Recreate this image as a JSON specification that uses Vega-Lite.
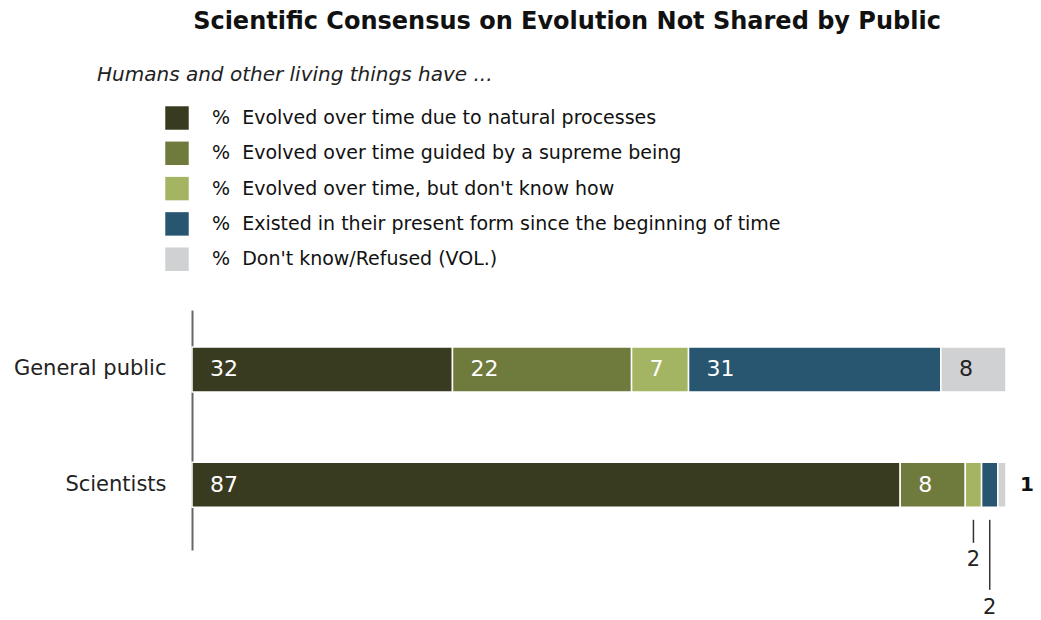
{
  "$schema": "https://vega.github.io/schema/vega-lite/v6.json",
  "width": 814,
  "height": 240,
  "autosize": {"type": "none"},
  "padding": {"left": 192, "top": 310, "right": 35, "bottom": 70},
  "background": "white",
  "config": {"view": {"stroke": null}, "font": "DejaVu Sans"},
  "title": {
    "text": "Scientific Consensus on Evolution Not Shared by Public",
    "font": "DejaVu Sans",
    "fontSize": 24,
    "fontWeight": "bold",
    "color": "#111111",
    "anchor": "middle",
    "dx": -32,
    "offset": 31
  },
  "data": {
    "values": [
      {"group": "General public", "answer": "Evolved over time due to natural processes", "order": 1, "value": 32},
      {"group": "General public", "answer": "Evolved over time guided by a supreme being", "order": 2, "value": 22},
      {"group": "General public", "answer": "Evolved over time, but don't know how", "order": 3, "value": 7},
      {"group": "General public", "answer": "Existed in their present form since the beginning of time", "order": 4, "value": 31},
      {"group": "General public", "answer": "Don't know/Refused (VOL.)", "order": 5, "value": 8},
      {"group": "Scientists", "answer": "Evolved over time due to natural processes", "order": 1, "value": 87},
      {"group": "Scientists", "answer": "Evolved over time guided by a supreme being", "order": 2, "value": 8},
      {"group": "Scientists", "answer": "Evolved over time, but don't know how", "order": 3, "value": 2},
      {"group": "Scientists", "answer": "Existed in their present form since the beginning of time", "order": 4, "value": 2},
      {"group": "Scientists", "answer": "Don't know/Refused (VOL.)", "order": 5, "value": 1}
    ]
  },
  "transform": [
    {"stack": "value", "groupby": ["group"], "sort": [{"field": "order"}], "as": ["x0", "x1"]},
    {"calculate": "(datum.x0 + datum.x1) / 2", "as": "mid"}
  ],
  "encoding": {
    "y": {
      "field": "group",
      "type": "nominal",
      "sort": ["General public", "Scientists"],
      "title": null,
      "scale": {"paddingInner": 0, "paddingOuter": 0.04, "align": 0.19},
      "axis": {
        "ticks": false,
        "labelFont": "DejaVu Sans",
        "labelFontSize": 21,
        "labelColor": "#222222",
        "labelPadding": 26,
        "labelLimit": 300,
        "domainColor": "#666666",
        "domainWidth": 2
      }
    }
  },
  "layer": [
    {
      "mark": {"type": "bar", "size": 45, "stroke": "white", "strokeWidth": 1.5},
      "encoding": {
        "x": {"field": "x0", "type": "quantitative", "scale": {"domain": [0, 100]}, "axis": null},
        "x2": {"field": "x1"},
        "color": {
          "field": "answer",
          "type": "nominal",
          "sort": null,
          "scale": {
            "domain": [
              "Evolved over time due to natural processes",
              "Evolved over time guided by a supreme being",
              "Evolved over time, but don't know how",
              "Existed in their present form since the beginning of time",
              "Don't know/Refused (VOL.)"
            ],
            "range": ["#383b20", "#6f7a3d", "#a3b562", "#28556f", "#d0d1d3"]
          },
          "legend": {
            "orient": "none",
            "legendX": -95,
            "legendY": -245,
            "title": "Humans and other living things have ...",
            "titleFont": "DejaVu Sans",
            "titleFontStyle": "italic",
            "titleFontWeight": "normal",
            "titleFontSize": 20,
            "titleColor": "#222222",
            "titleLimit": 800,
            "titlePadding": 21,
            "symbolType": "square",
            "symbolSize": 550,
            "symbolOffset": 68,
            "symbolStrokeWidth": 0,
            "symbolOpacity": 1,
            "labelFont": "DejaVu Sans",
            "labelFontSize": 19,
            "labelColor": "#111111",
            "labelOffset": 23,
            "labelLimit": 800,
            "rowPadding": 11.3,
            "labelExpr": "'%\u00a0\u00a0' + datum.label"
          }
        }
      }
    },
    {
      "transform": [{"filter": "datum.value >= 5"}],
      "mark": {"type": "text", "align": "left", "baseline": "middle", "dx": 18, "fontSize": 22, "font": "DejaVu Sans"},
      "encoding": {
        "x": {"field": "x0", "type": "quantitative"},
        "text": {"field": "value", "type": "quantitative"},
        "color": {"condition": {"test": "datum.order == 5", "value": "#222222"}, "value": "white"}
      }
    },
    {
      "transform": [{"filter": "datum.group == 'Scientists' && datum.order == 5"}],
      "mark": {"type": "text", "align": "left", "baseline": "middle", "dx": 14, "fontSize": 20, "fontWeight": "bold", "font": "DejaVu Sans", "color": "#111111"},
      "encoding": {
        "x": {"field": "x1", "type": "quantitative"},
        "text": {"field": "value", "type": "quantitative"}
      }
    },
    {
      "transform": [{"filter": "datum.group == 'Scientists' && datum.order == 3"}],
      "mark": {"type": "rule", "color": "#333333", "strokeWidth": 1.5, "yOffset": 35, "y2Offset": 58},
      "encoding": {
        "x": {"field": "mid", "type": "quantitative"},
        "y": {"field": "group", "type": "nominal"},
        "y2": {"field": "group"}
      }
    },
    {
      "transform": [{"filter": "datum.group == 'Scientists' && datum.order == 3"}],
      "mark": {"type": "text", "align": "center", "baseline": "middle", "yOffset": 75, "fontSize": 21, "font": "DejaVu Sans", "color": "#222222"},
      "encoding": {
        "x": {"field": "mid", "type": "quantitative"},
        "text": {"field": "value", "type": "quantitative"}
      }
    },
    {
      "transform": [{"filter": "datum.group == 'Scientists' && datum.order == 4"}],
      "mark": {"type": "rule", "color": "#333333", "strokeWidth": 1.5, "yOffset": 35, "y2Offset": 105},
      "encoding": {
        "x": {"field": "mid", "type": "quantitative"},
        "y": {"field": "group", "type": "nominal"},
        "y2": {"field": "group"}
      }
    },
    {
      "transform": [{"filter": "datum.group == 'Scientists' && datum.order == 4"}],
      "mark": {"type": "text", "align": "center", "baseline": "middle", "yOffset": 123, "fontSize": 21, "font": "DejaVu Sans", "color": "#222222"},
      "encoding": {
        "x": {"field": "mid", "type": "quantitative"},
        "text": {"field": "value", "type": "quantitative"}
      }
    }
  ]
}
